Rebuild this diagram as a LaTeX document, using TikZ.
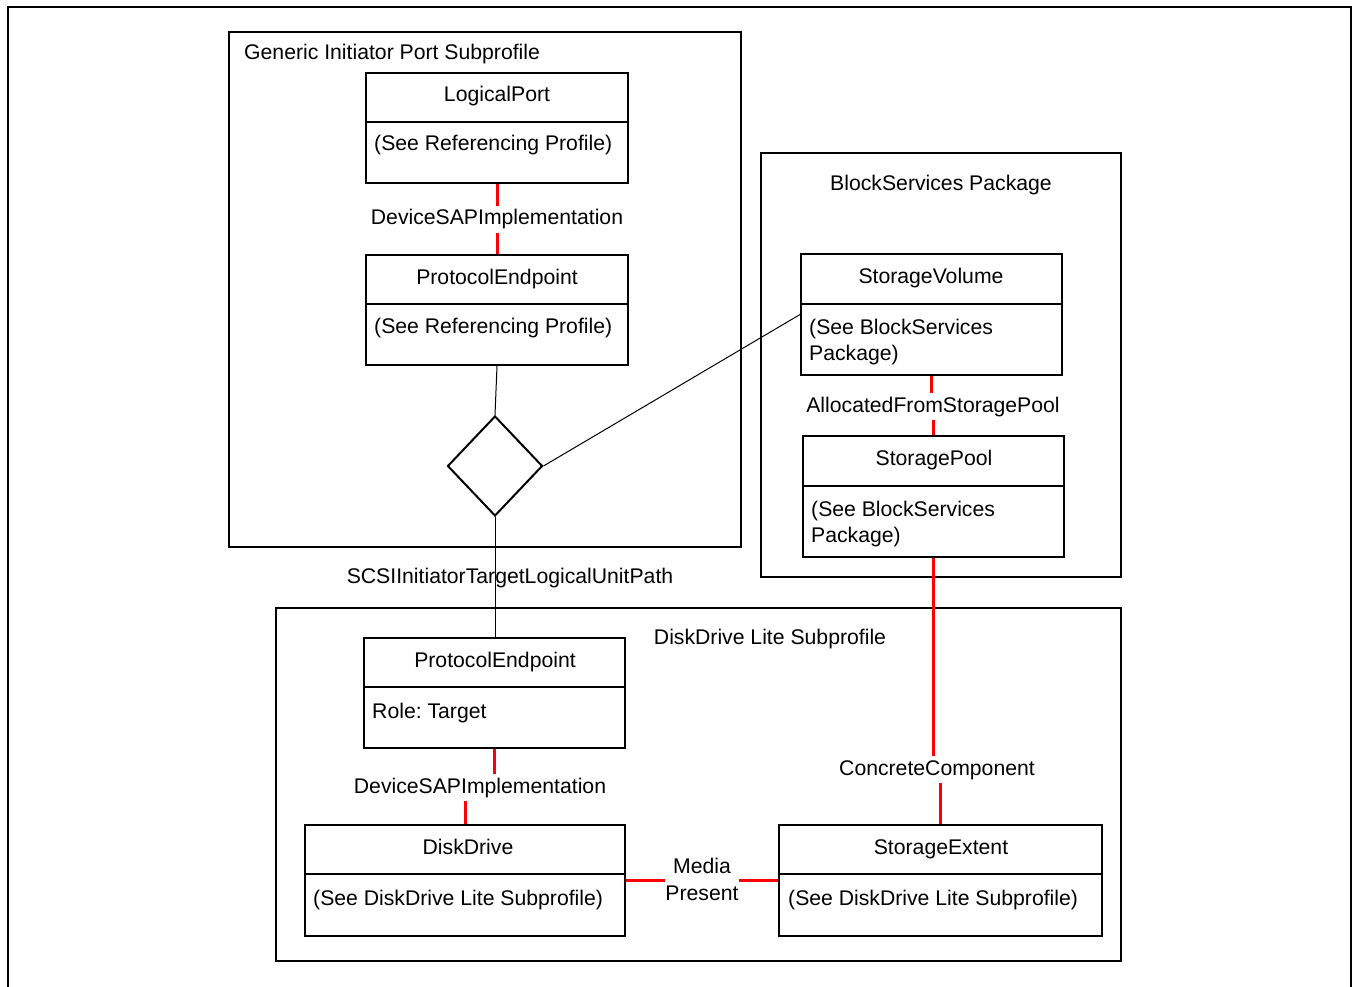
\documentclass[tikz,border=0pt]{standalone}
\usepackage{fontspec}
\setmainfont{Liberation Sans}
\usetikzlibrary{shapes.geometric}
\frenchspacing
\begin{document}
\begin{tikzpicture}[x=1pt,y=-1pt,
  every node/.style={font=\fontsize{21.2}{25}\selectfont},
  frame/.style={draw, line width=2pt, rectangle, inner sep=0pt},
  classbox/.style={draw, line width=2pt, rectangle, inner sep=0pt},
  divider/.style={line width=2pt},
  txt/.style={anchor=base, inner sep=0pt},
  txtl/.style={anchor=base west, inner sep=0pt},
  rel/.style={anchor=base, text height=15pt, text depth=4pt, inner xsep=1pt, inner ysep=4pt},
  redline/.style={draw=red, line width=3pt},
  thinline/.style={draw=black, line width=1pt}]

\useasboundingbox (0,0) rectangle (1354,987);
\draw[line width=2.5pt] (8,995) -- (8,7) -- (1351,7) -- (1351,995);

% package / subprofile frames
\node[frame, minimum width=512pt, minimum height=515pt] (gip) at (485,289.5) {};
\node[txtl] (giptitle) at (244,60) {Generic Initiator Port Subprofile};
\node[frame, minimum width=360pt, minimum height=424pt] (bsp) at (941,365) {};
\node[txt] (bsptitle) at (941,190) {BlockServices Package};
\node[frame, minimum width=845pt, minimum height=353pt] (ddl) at (698.5,784.5) {};
\node[txt] (ddltitle) at (770,644) {DiskDrive Lite Subprofile};

% classes
\node[classbox, minimum width=262pt, minimum height=110pt] (lp) at (497,128) {};
\draw[divider] ([yshift=-50pt]lp.north west) -- ([yshift=-50pt]lp.north east);
\node[txt] (lpname) at (497,102) {LogicalPort};
\node[txtl] (lpattr) at (374,151) {(See Referencing Profile)};

\node[classbox, minimum width=262pt, minimum height=110pt] (pe1) at (497,310) {};
\draw[divider] ([yshift=-50pt]pe1.north west) -- ([yshift=-50pt]pe1.north east);
\node[txt] (pe1name) at (497,284) {ProtocolEndpoint};
\node[txtl] (pe1attr) at (374,333) {(See Referencing Profile)};

\node[classbox, minimum width=261pt, minimum height=121pt] (sv) at (931.5,314.5) {};
\draw[divider] ([yshift=-51pt]sv.north west) -- ([yshift=-51pt]sv.north east);
\node[txt] (svname) at (931,283) {StorageVolume};
\node[txtl] (svattr1) at (809,334) {(See BlockServices};
\node[txtl] (svattr2) at (809,360) {Package)};

\node[classbox, minimum width=261pt, minimum height=121pt] (sp) at (933.5,496.5) {};
\draw[divider] ([yshift=-51pt]sp.north west) -- ([yshift=-51pt]sp.north east);
\node[txt] (spname) at (934,465) {StoragePool};
\node[txtl] (spattr1) at (811,516) {(See BlockServices};
\node[txtl] (spattr2) at (811,542) {Package)};

\node[classbox, minimum width=261pt, minimum height=110pt] (pe2) at (494.5,693) {};
\draw[divider] ([yshift=-50pt]pe2.north west) -- ([yshift=-50pt]pe2.north east);
\node[txt] (pe2name) at (495,667) {ProtocolEndpoint};
\node[txtl] (pe2attr) at (372,718) {Role: Target};

\node[classbox, minimum width=320pt, minimum height=111pt] (dd) at (465,880.5) {};
\draw[divider] ([yshift=-50pt]dd.north west) -- ([yshift=-50pt]dd.north east);
\node[txt] (ddname) at (468,854) {DiskDrive};
\node[txtl] (ddattr) at (313,905) {(See DiskDrive Lite Subprofile)};

\node[classbox, minimum width=323pt, minimum height=111pt] (se) at (940.5,880.5) {};
\draw[divider] ([yshift=-50pt]se.north west) -- ([yshift=-50pt]se.north east);
\node[txt] (sename) at (941,854) {StorageExtent};
\node[txtl] (seattr) at (788,905) {(See DiskDrive Lite Subprofile)};

% association diamond
\node[draw, diamond, line width=2pt, inner sep=0pt, minimum width=95pt, minimum height=100pt] (dia) at (495,466) {};

% association labels
\node[rel] (dsap1) at (497,225) {DeviceSAPImplementation};
\node[rel] (afsp) at (933,412) {AllocatedFromStoragePool};
\node[rel] (cc) at (937,775) {ConcreteComponent};
\node[rel] (dsap2) at (480,793) {DeviceSAPImplementation};
\node[txt] (scsi) at (510,583) {SCSIInitiatorTargetLogicalUnitPath};
\node[txt] (media) at (702,873) {Media};
\node[txt] (present) at (702,900) {Present};

% red associations
\draw[redline] (lp.south) -- (dsap1.north);
\draw[redline] (dsap1.south) -- (pe1.north);
\draw[redline] (sv.south) -- (sv.south |- afsp.north);
\draw[redline] (afsp.south -| sp.north) -- (sp.north);
\draw[redline] (sp.south) -- (sp.south |- cc.north);
\draw[redline] (cc.south -| se.north) -- (se.north);
\draw[redline] (pe2.south) -- (pe2.south |- dsap2.north);
\draw[redline] (dsap2.south -| dd.north) -- (dd.north);
\draw[redline] (dd.east) -- (dd.east -| present.west);
\draw[redline] (se.west) -- (se.west -| present.east);

% thin association lines through the diamond
\draw[thinline] (pe1.south) -- (dia.north);
\draw[thinline] (dia.east) -- (sv.west);
\draw[thinline] (dia.south) -- (dia.south |- pe2.north);
\end{tikzpicture}
\end{document}
